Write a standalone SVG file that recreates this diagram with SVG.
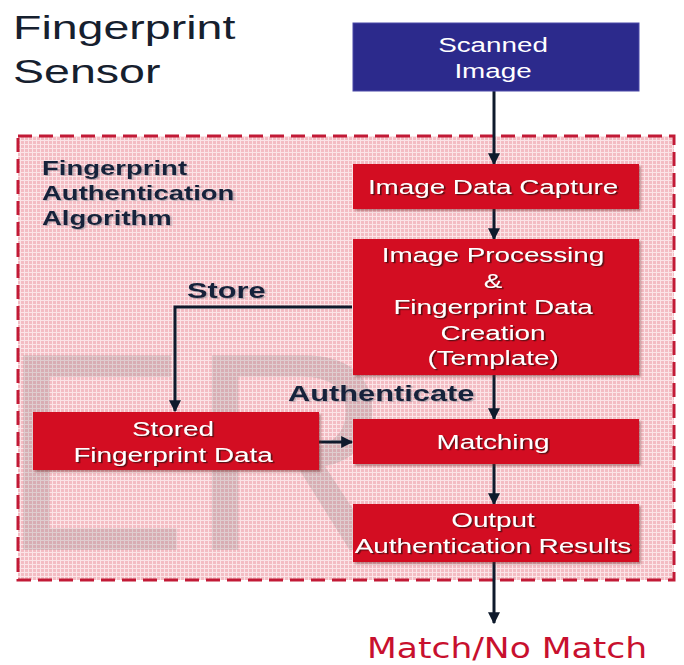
<svg xmlns="http://www.w3.org/2000/svg" width="684" height="665" viewBox="0 0 684 665">
<defs>
<pattern id="grid" width="4" height="4" patternUnits="userSpaceOnUse">
<rect width="4" height="4" fill="#f3bcc3"/>
<path d="M0 0.5H4M0.5 0V4" stroke="#fbe4e7" stroke-width="1"/>
</pattern>
<filter id="boxsh" x="-5%" y="-10%" width="115%" height="130%">
<feDropShadow dx="2" dy="2" stdDeviation="1" flood-color="#6a2020" flood-opacity="0.45"/>
</filter>
<filter id="txtsh" x="-5%" y="-20%" width="115%" height="150%">
<feDropShadow dx="1.2" dy="1.2" stdDeviation="0.5" flood-color="#3a0a0a" flood-opacity="0.8"/>
</filter>
<filter id="lblsh" x="-5%" y="-20%" width="115%" height="150%">
<feDropShadow dx="1" dy="1" stdDeviation="0.6" flood-color="#6a6a7a" flood-opacity="0.5"/>
</filter>
<marker id="arr" viewBox="0 0 10 10" refX="9" refY="5" markerWidth="4" markerHeight="4" orient="auto" markerUnits="strokeWidth">
<path d="M0 0L10 5L0 10Z" fill="#0e1a2c"/>
</marker>
</defs>
<style>
.box{fill:#d30c20;filter:url(#boxsh)}
.blue{fill:#2c2a8c;stroke:#4a48a8;stroke-width:1}
.bt{font-family:"Liberation Sans",Arial,sans-serif;font-size:20px;fill:#ffffff;text-anchor:middle;filter:url(#txtsh)}
.lbl{font-family:"Liberation Sans",Arial,sans-serif;font-weight:bold;fill:#15233a;filter:url(#lblsh)}
.conn{fill:none;stroke:#0e1a2c;stroke-width:3;marker-end:url(#arr)}
</style>
<rect width="684" height="665" fill="#ffffff"/>

<g id="title">
<text class="lbl" style="font-weight:normal;font-size:33px;fill:#16202e;filter:none" transform="matrix(1.41 0 0 1 13 39)">Fingerprint</text>
<text class="lbl" style="font-weight:normal;font-size:33px;fill:#16202e;filter:none" transform="matrix(1.41 0 0 1 13 83)">Sensor</text>
</g>

<g id="algorithm-area">
<rect x="18" y="136" width="656" height="444" fill="url(#grid)" stroke="#c21a36" stroke-width="3" stroke-dasharray="14 7"/>
<text class="lbl" style="font-size:19.5px" transform="matrix(1.41 0 0 1 42 175)">Fingerprint</text>
<text class="lbl" style="font-size:19.5px" transform="matrix(1.41 0 0 1 42 200)">Authentication</text>
<text class="lbl" style="font-size:19.5px" transform="matrix(1.41 0 0 1 42 225)">Algorithm</text>
</g>

<g id="watermark">
<text x="0" y="550" font-family="Liberation Sans, Arial, sans-serif" font-size="283" fill="#7a7a7a" fill-opacity="0.22">ER</text>
</g>

<g id="connectors">
<line class="conn" x1="494" y1="91" x2="494" y2="164"/>
<line class="conn" x1="494" y1="209" x2="494" y2="239"/>
<polyline class="conn" points="352,307 175,307 175,411"/>
<line class="conn" x1="494" y1="375" x2="494" y2="419"/>
<line class="conn" x1="319" y1="442" x2="352" y2="442"/>
<line class="conn" x1="494" y1="464" x2="494" y2="504"/>
<line class="conn" x1="494" y1="562" x2="494" y2="623"/>
<text class="lbl" style="font-size:22px" transform="matrix(1.4 0 0 1 187 298)">Store</text>
<text class="lbl" style="font-size:22px" transform="matrix(1.4 0 0 1 288 401)">Authenticate</text>
</g>

<g id="scanned-image">
<rect class="blue" x="353" y="23" width="286" height="68"/>
<text class="bt" style="filter:none" transform="matrix(1.39 0 0 1 493 52)">Scanned</text>
<text class="bt" style="filter:none" transform="matrix(1.39 0 0 1 493 78)">Image</text>
</g>

<g id="image-data-capture">
<rect class="box" x="353" y="164" width="286" height="45"/>
<text class="bt" transform="matrix(1.39 0 0 1 493 194)">Image Data Capture</text>
</g>

<g id="image-processing">
<rect class="box" x="353" y="239" width="286" height="136"/>
<text class="bt" transform="matrix(1.39 0 0 1 493 262)">Image Processing</text>
<text class="bt" transform="matrix(1.39 0 0 1 493 288)">&amp;</text>
<text class="bt" transform="matrix(1.39 0 0 1 493 314)">Fingerprint Data</text>
<text class="bt" transform="matrix(1.39 0 0 1 493 340)">Creation</text>
<text class="bt" transform="matrix(1.39 0 0 1 493 365)">(Template)</text>
</g>

<g id="stored-fingerprint-data">
<rect class="box" x="33" y="412" width="286" height="58"/>
<text class="bt" transform="matrix(1.39 0 0 1 173 436)">Stored</text>
<text class="bt" transform="matrix(1.39 0 0 1 173 462)">Fingerprint Data</text>
</g>

<g id="matching">
<rect class="box" x="353" y="419" width="286" height="45"/>
<text class="bt" transform="matrix(1.39 0 0 1 493 449)">Matching</text>
</g>

<g id="output-results">
<rect class="box" x="353" y="504" width="286" height="58"/>
<text class="bt" transform="matrix(1.39 0 0 1 493 527)">Output</text>
<text class="bt" transform="matrix(1.39 0 0 1 493 553)">Authentication Results</text>
</g>

<g id="result">
<text x="367" y="658" font-family="DejaVu Sans, Verdana, sans-serif" font-size="29" fill="#c8102e" textLength="280" lengthAdjust="spacingAndGlyphs">Match/No Match</text>
</g>
</svg>
